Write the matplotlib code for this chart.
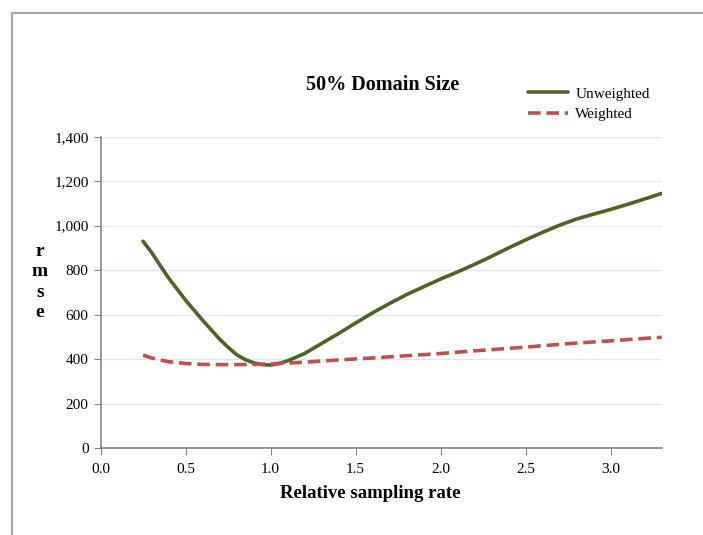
import matplotlib
matplotlib.use('Agg')
import matplotlib.pyplot as plt
from matplotlib.ticker import FuncFormatter
from matplotlib.patches import Rectangle

# rmse vs relative sampling rate, 50% domain size
x_unw = [0.25, 0.3, 0.35, 0.4, 0.5, 0.6, 0.7, 0.75, 0.8, 0.85, 0.9, 0.95, 1.0, 1.05,
         1.1, 1.2, 1.3, 1.4, 1.5, 1.6, 1.7, 1.8, 1.9, 2.0, 2.1, 2.2, 2.3, 2.4, 2.5,
         2.6, 2.7, 2.8, 2.9, 3.0, 3.1, 3.2, 3.3]
unweighted = [930, 880, 822, 765, 665, 575, 490, 453, 420, 398, 383, 375, 373, 380,
              392, 425, 470, 515, 562, 608, 650, 690, 725, 760, 792, 826, 862, 900, 936,
              970, 1002, 1030, 1052, 1073, 1096, 1120, 1145]

x_w = [0.25, 0.3, 0.4, 0.5, 0.6, 0.7, 0.8, 0.9, 1.0, 1.2, 1.4, 1.6, 1.8, 2.0, 2.2,
       2.4, 2.6, 2.8, 3.0, 3.2, 3.3]
weighted = [418, 405, 388, 380, 376, 375, 375, 376, 378, 386, 396, 405, 415, 425, 437,
            448, 460, 472, 482, 493, 498]

xticks = [0.0, 0.5, 1.0, 1.5, 2.0, 2.5, 3.0]
yticks = [0, 200, 400, 600, 800, 1000, 1200, 1400]

plt.rcParams['font.family'] = ['Liberation Serif', 'DejaVu Serif']

fig = plt.figure(figsize=(7.03, 5.35), dpi=100)
W, H = 703, 535

# outer frame of the original picture
fig.patches.append(Rectangle((12 / W, -0.05), 1.2, 1 - 13 / H + 0.05,
                             transform=fig.transFigure, fill=False,
                             edgecolor='#a6a6a6', linewidth=1.5))

ax = fig.add_axes([100.5 / W, 1 - 448 / H, (661.7 - 100.5) / W, (448 - 136.7) / H])

ax.plot(x_unw, unweighted, color='#4f6228', linewidth=2.6, label='Unweighted',
        solid_capstyle='round', solid_joinstyle='round')
ax.plot(x_w, weighted, color='#c0504d', linewidth=2.6, linestyle=(0, (3.5, 1.6)),
        label='Weighted')

ax.set_xlim(0, 3.3)
ax.set_ylim(0, 1400)
ax.set_xticks(xticks)
ax.set_yticks(yticks)
ax.xaxis.set_major_formatter(FuncFormatter(lambda v, p: '%.1f' % v))
ax.yaxis.set_major_formatter(FuncFormatter(lambda v, p: '{:,.0f}'.format(v)))
ax.tick_params(labelsize=11, length=5, color='#868686', direction='out')
ax.tick_params(axis='x', pad=6)

ax.grid(axis='y', color='#dde7f0', linewidth=1)
ax.set_axisbelow(True)
for s in ['top', 'right']:
    ax.spines[s].set_visible(False)
for s in ['left', 'bottom']:
    ax.spines[s].set_color('#868686')
    ax.spines[s].set_linewidth(1.2)

fig.text(383 / W, 1 - 85 / H, '50% Domain Size', ha='center', va='center',
         fontsize=14.5, fontweight='bold')
fig.text(370 / W, 1 - 494 / H, 'Relative sampling rate', ha='center', va='center',
         fontsize=13.5, fontweight='bold')
fig.text(40 / W, 1 - 282 / H, 'r\nm\ns\ne', ha='center', va='center',
         fontsize=14, fontweight='bold', linespacing=1.25)

ax.legend(loc='upper left', bbox_to_anchor=(528 / W, 1 - 87 / H),
          bbox_transform=fig.transFigure, frameon=False, fontsize=11,
          handlelength=2.6, handletextpad=0.5, labelspacing=0.45,
          borderpad=0, borderaxespad=0)

fig.savefig('out.png', dpi=100)
